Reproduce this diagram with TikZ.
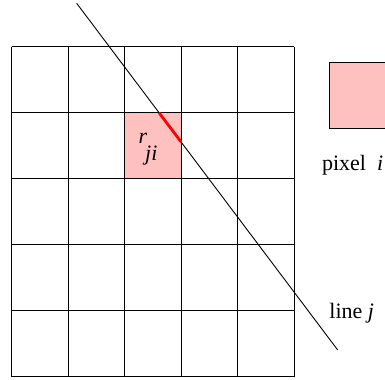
\documentclass[tikz,border=0pt]{standalone}
\usepackage{fontspec}
\setmainfont{Liberation Serif}
\definecolor{pixpink}{RGB}{255,192,192}

\begin{document}
\begin{tikzpicture}[x=56.5pt,y=66pt,font=\fontsize{22}{26}\selectfont]

   \useasboundingbox (-0.207,-0.035) rectangle (6.607,5.708);
   \clip (-0.207,-0.035) rectangle (6.607,5.708);

   \fill [pixpink] (2,3) rectangle (3,4);
   \foreach \k in {0,...,5}
   {
      \draw [line width=1.2pt] (\k,0) -- (\k,5);
      \draw [line width=1.2pt] (0,\k) -- (5,\k);
   }

   \draw [line width=1.2pt, fill=pixpink] (5.619,3.764) rectangle (6.7,4.76);

   \coordinate (lstart) at (1.15,5.658);
   \coordinate (lend) at (5.77,0.405);
   \draw [line width=0.9pt] (lstart) -- (lend);
   \draw [red, line width=2.8pt] (2.608,4) -- (3,3.555);

   \draw (2.241,3.536) node[anchor=base west, inner sep=0pt] (rji) {\textit{r}\kern-2pt\raisebox{-17pt}{\textit{ji}}};
   \draw (5.49,3.132) node[anchor=base west, inner sep=0pt] (pixlabel) {pixel\ \ \textit{i}};
   \draw (5.62,0.889) node[anchor=base west, inner sep=0pt] (linelabel) {line \textit{j}};

\end{tikzpicture}
\end{document}
